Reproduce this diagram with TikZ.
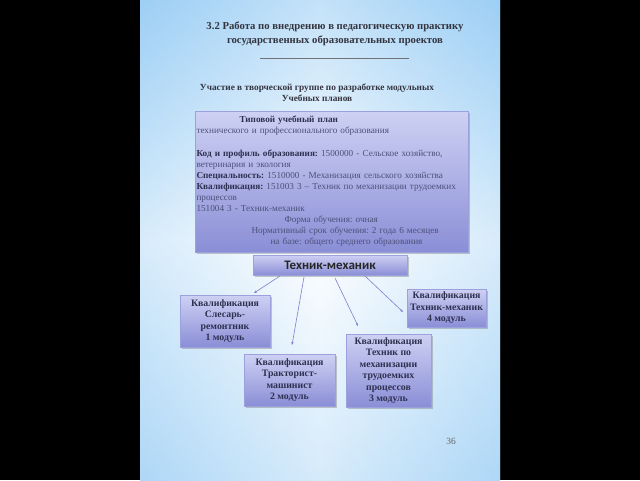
\documentclass[tikz,border=0pt]{standalone}
\usepackage{fontspec}
\setmainfont{Liberation Serif}
\newfontfamily\calib{Carlito}
\usetikzlibrary{shadows,calc,arrows.meta}
\definecolor{pb}{HTML}{9DCFF5}
\definecolor{boxtop}{HTML}{CED1F3}
\definecolor{boxbot}{HTML}{8A8ED6}
\definecolor{boxline}{HTML}{9CA0DC}
\definecolor{txtd}{HTML}{2E3050}
\definecolor{txtn}{HTML}{4C507A}
\definecolor{arrc}{HTML}{7C81CF}
\definecolor{titc}{HTML}{33343F}
\begin{document}
\frenchspacing
\begin{tikzpicture}[x=1pt,y=-1pt,
  card/.style={draw=boxline, line width=0.5pt, top color=boxtop, bottom color=boxbot,
    drop shadow={shadow xshift=1.5pt, shadow yshift=-1.5pt, opacity=0.35, fill=black!60},
    inner sep=0pt, outer sep=0pt},
  qual/.style={card, align=center, font=\bfseries\fontsize{9.8}{11.5}\selectfont, text=txtd},
  arr/.style={draw=arrc, line width=0.6pt, -{Stealth[length=3pt,width=2.5pt]}},
]
\useasboundingbox (0,0) rectangle (640,480);
\fill[black] (0,0) rectangle (640,480);
\shade[left color=pb, right color=pb, middle color=white] (140,0) rectangle (500,480);
\shade[top color=pb, bottom color=pb!70, middle color=white, opacity=0.6] (140,0) rectangle (500,480);

\node[font=\bfseries\fontsize{10.7}{14}\selectfont, text=titc, align=center] (title) at (335,34)
  {3.2 Работа по внедрению в педагогическую практику\\государственных образовательных проектов};
\coordinate (ul1) at (260,58);
\coordinate (ul2) at (409,58);
\draw[line width=0.6pt, color=titc!70] (ul1) -- (ul2);

\node[font=\bfseries\fontsize{9.3}{11}\selectfont, text=titc, align=center] (sub) at (317,92.5)
  {Участие в творческой группе по разработке модульных\\Учебных планов};

\node[card, minimum width=273pt, minimum height=141pt, text width=270pt, align=left,
  font=\fontsize{9.2}{11.1}\selectfont, text=txtn] (plan) at (331.5,181.5)
  {\hspace*{43pt}\textcolor{txtd}{\textbf{Типовой учебный план}}\\
   технического и профессионального образования\\
   \mbox{}\\
   \textcolor{txtd}{\textbf{Код и профиль образования:}} 1500000 - Сельское хозяйство,\\
   ветеринария и экология\\
   \textcolor{txtd}{\textbf{Специальность:}} 1510000 - Механизация сельского хозяйства\\
   \textcolor{txtd}{\textbf{Квалификация:}} 151003 3 – Техник по механизации трудоемких\\
   процессов\\
   151004 3 - Техник-механик\\
   \hspace*{88pt}Форма обучения: очная\\
   \hspace*{55pt}Нормативный срок обучения: 2 года 6 месяцев\\
   \hspace*{74pt}на базе: общего среднего образования};

\node[card, minimum width=154pt, minimum height=20pt, font=\calib\bfseries\fontsize{13}{15}\selectfont,
  text=black!85] (tm) at (330,265) {Техник-механик};

\node[qual, minimum width=90pt, minimum height=52pt] (b1) at (225,321)
  {Квалификация\\Слесарь-\\ремонтник\\1 модуль};
\node[qual, minimum width=91pt, minimum height=52pt] (b2) at (289.5,380)
  {Квалификация\\Тракторист-\\машинист\\2 модуль};
\node[qual, minimum width=85pt, minimum height=73pt] (b3) at (388.5,370.5)
  {Квалификация\\Техник по\\механизации\\трудоемких\\процессов\\3 модуль};
\node[qual, minimum width=79pt, minimum height=38pt] (b4) at (446.5,308)
  {Квалификация\\Техник-механик\\4 модуль};

\draw[arr] ($(tm.south)+(-50,1)$) -- ($(b1.north)+(29,-2)$);
\draw[arr] ($(tm.south)+(-26,2)$) -- ($(b2.north)+(2.5,-9)$);
\draw[arr] ($(tm.south)+(5,3)$) -- ($(b3.north)+(-30.5,-8)$);
\draw[arr] ($(tm.south)+(35,1)$) -- ($(b4.west)+(-4,4)$);

\node[font=\fontsize{9.5}{11}\selectfont, text=black!60] (pnum) at (451,441) {36};
\end{tikzpicture}
\end{document}
